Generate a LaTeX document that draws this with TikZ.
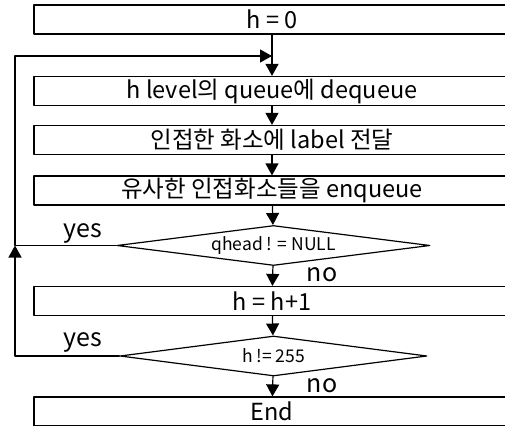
\documentclass[tikz,border=0pt]{standalone}
\usepackage{fontspec}
\setmainfont{Noto Sans CJK KR}
\usetikzlibrary{arrows.meta,shapes.geometric}

\tikzset{
  procbox/.style={draw, line width=1.2pt, minimum width=476pt, minimum height=29pt,
    inner sep=0pt, font=\fontsize{23.5}{23.5}\selectfont},
  testbox/.style={draw, diamond, line width=1.2pt, minimum height=40pt, inner sep=0pt,
    aspect=8, font=\fontsize{17.5}{17.5}\selectfont},
  flow/.style={-{Triangle[width=13pt,length=12pt]}, line width=1.2pt},
  answer/.style={font=\fontsize{25}{25}\selectfont}
}

\begin{document}
\begin{tikzpicture}[x=1pt, y=-1pt, line cap=round, line join=round]
% ---------- frame ----------
\useasboundingbox (0,0) rectangle (505,425);
\clip (0,0) rectangle (505,425);
\def\cx{272}   % axis of the flow
\def\lx{15}    % x of the return line

% ---------- steps ----------
\node[procbox] (init)  at (\cx,19.5)  {h = 0};
\node[procbox] (deq)   at (\cx,91)    {h level의 queue에 dequeue};
\node[procbox] (pass)  at (\cx,140)   {인접한 화소에 label 전달};
\node[procbox] (enq)   at (\cx,190.5) {유사한 인접화소들을 enqueue};
\node[testbox, minimum width=313pt] (qtest) at (273.5,245.5) {qhead ! = NULL};
\node[procbox] (inc)   at (\cx,301)   {h = h+1};
\node[testbox, minimum width=307pt] (htest) at (273.5,356) {h != 255};
\node[procbox] (stop)  at (\cx,411.5) {End};

% ---------- main flow ----------
\draw[flow] (init) -- (deq);
\draw[flow] (deq) -- (pass);
\draw[flow] (pass) -- (enq);
\draw[flow] (enq) -- (qtest);
\draw[flow] (qtest) -- (inc);
\draw[flow] (inc) -- (htest);
\draw[flow] (htest) -- (stop);

% ---------- return lines ----------
\coordinate (merge) at (\lx,245.5);
\coordinate (corner) at (\lx,56);
\coordinate (entry) at (\cx,56);
\draw[flow] (htest.west) -| (merge);
\draw[flow] (qtest.west) -- (merge) -- (corner) -- (entry);

% ---------- answers ----------
\node[answer] (yes1) at (83,233) {yes};
\node[answer] (no1)  at (322,275) {no};
\node[answer] (yes2) at (83,342) {yes};
\node[answer] (no2)  at (322,386) {no};
\end{tikzpicture}
\end{document}
